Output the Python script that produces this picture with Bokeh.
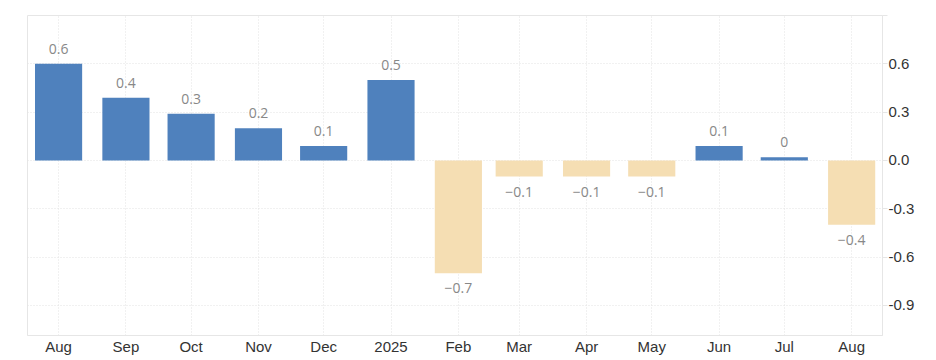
import pandas as pd
from bokeh.plotting import figure
from bokeh.models import ColumnDataSource, FixedTicker, Range1d, LinearAxis
from bokeh.core.properties import value
from bokeh.embed import file_html
from bokeh.resources import INLINE

# ---- data ----
months = ["2024-08-01", "2024-09-01", "2024-10-01", "2024-11-01", "2024-12-01",
          "2025-01-01", "2025-02-01", "2025-03-01", "2025-04-01", "2025-05-01",
          "2025-06-01", "2025-07-01", "2025-08-01"]
tick_labels = ["Aug", "Sep", "Oct", "Nov", "Dec", "2025", "Feb", "Mar",
               "Apr", "May", "Jun", "Jul", "Aug"]
values = [0.6, 0.39, 0.29, 0.2, 0.09, 0.5, -0.7, -0.1, -0.1, -0.1,
          0.09, 0.02, -0.4]
bar_labels = ["0.6", "0.4", "0.3", "0.2", "0.1", "0.5", "\u22120.7", "\u22120.1",
              "\u22120.1", "\u22120.1", "0.1", "0", "\u22120.4"]
y_ticks = [-0.9, -0.6, -0.3, 0.0, 0.3, 0.6, 0.9]
y_tick_labels = ["-0.9", "-0.6", "-0.3", "0.0", "0.3", "0.6", ""]

dates = pd.to_datetime(months)
days = [int((d - dates[0]).days) for d in dates]

BLUE = "#4f81bd"
TAN = "#f5deb3"
colors = [BLUE if v >= 0 else TAN for v in values]
label_y_off = [-15 if v >= 0 else 15 for v in values]

src = ColumnDataSource(dict(x=days, top=values, color=colors,
                            label=bar_labels, yoff=label_y_off))

p = figure(width=936, height=360, output_backend="svg", toolbar_location=None,
           x_range=Range1d(-14.3, 379.2), y_range=Range1d(-1.087, 0.9),
           min_border_left=27, min_border_top=15, min_border_right=54,
           min_border_bottom=25, y_axis_location=None)
p.background_fill_color = "white"
p.border_fill_color = "white"
p.outline_line_color = "#e6e6e6"

p.vbar(x="x", top="top", bottom=0, width=21.7, color="color", source=src,
       line_color=None)
p.text(x="x", y="top", text="label", y_offset="yoff", source=src,
       text_align="center", text_baseline="middle", text_color="#888888",
       text_font=value("Open Sans"), text_font_size="14px")

# x axis
xa = p.xaxis[0]
xa.ticker = FixedTicker(ticks=days)
xa.major_label_overrides = {d: l for d, l in zip(days, tick_labels)}
xa.axis_line_color = "#e6e6e6"
xa.major_tick_line_color = None
xa.major_tick_out = 0
xa.major_tick_in = 0
xa.minor_tick_line_color = None
xa.minor_tick_out = 0
xa.major_label_standoff = 2
xa.major_label_text_font = "Liberation Sans"
xa.major_label_text_font_size = "15px"
xa.major_label_text_color = "#333333"

# y axis on right
ya = LinearAxis(ticker=FixedTicker(ticks=y_ticks))
ya.major_label_overrides = {t: l for t, l in zip(y_ticks, y_tick_labels)}
ya.axis_line_color = "#e6e6e6"
ya.major_tick_line_color = "#e6e6e6"
ya.major_tick_out = 5
ya.major_tick_in = 0
ya.minor_tick_line_color = None
ya.minor_tick_out = 0
ya.major_label_standoff = 1
ya.major_label_text_font = "Liberation Sans"
ya.major_label_text_font_size = "15px"
ya.major_label_text_color = "#333333"
p.add_layout(ya, "right")

p.xgrid.ticker = FixedTicker(ticks=days)
p.ygrid.ticker = FixedTicker(ticks=y_ticks)
for g in (p.xgrid[0], p.ygrid[0]):
    g.grid_line_color = "#e3e3e3"
    g.grid_line_dash = "1 2"

open("out.html", "w").write(file_html(p, INLINE))
